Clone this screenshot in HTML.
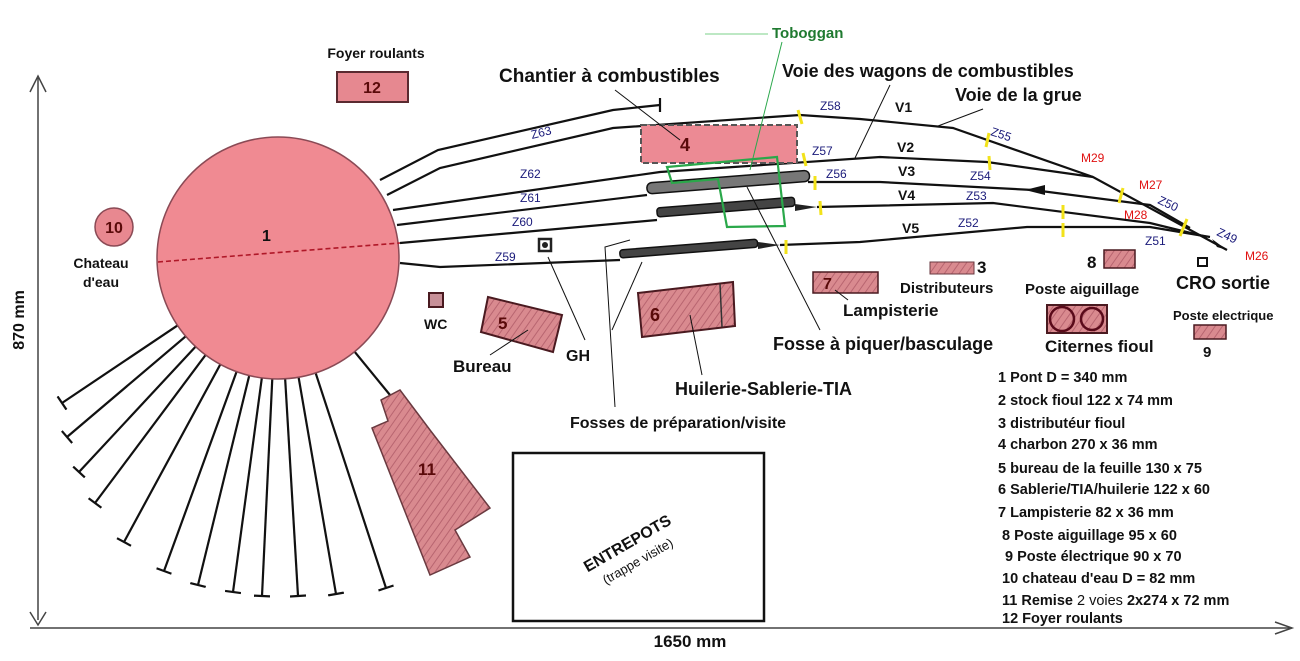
<!DOCTYPE html>
<html><head><meta charset="utf-8"><style>
html,body{margin:0;padding:0;background:#fff;}
svg{display:block;font-family:"Liberation Sans",sans-serif;}
.b{font-weight:bold;fill:#111;}
.z{fill:#1a1a7a;font-size:12px;}
.m{fill:#e01010;font-size:12px;}
.v{font-weight:bold;font-size:14px;fill:#111;}
.lg{font-weight:bold;font-size:14.5px;fill:#111;}
</style></head><body>
<svg width="1300" height="661" viewBox="0 0 1300 661" xmlns="http://www.w3.org/2000/svg">
<defs>
<marker id="tk" markerWidth="4" markerHeight="16" refX="2" refY="8" orient="auto" markerUnits="userSpaceOnUse"><line x1="2" y1="0" x2="2" y2="16" stroke="#111" stroke-width="2.2"/></marker>
<pattern id="h" width="6" height="6" patternUnits="userSpaceOnUse" patternTransform="rotate(35)"><rect width="6" height="6" fill="#d98a8f"/><line x1="0" y1="0" x2="0" y2="6" stroke="#b86570" stroke-width="2"/></pattern>
</defs>
<rect width="1300" height="661" fill="#fff"/>
<!-- axes -->
<line x1="38" y1="78" x2="38" y2="620" stroke="#444" stroke-width="1.5"/>
<path d="M30,92 L38,76 L46,92" fill="none" stroke="#444" stroke-width="1.5"/>
<path d="M30,612 L38,625 L46,612" fill="none" stroke="#444" stroke-width="1.5"/>
<line x1="30" y1="628" x2="1292" y2="628" stroke="#444" stroke-width="1.5"/>
<path d="M1275,622 L1292,628 L1275,634" fill="none" stroke="#444" stroke-width="1.5"/>
<text x="24" y="320" class="b" font-size="16" transform="rotate(-90 24 320)" text-anchor="middle">870 mm</text>
<text x="690" y="647" class="b" font-size="17" text-anchor="middle">1650 mm</text>
<!-- radial tracks -->
<g stroke="#111" stroke-width="2.2" marker-end="url(#tk)">
<line x1="278" y1="258" x2="62" y2="403"/>
<line x1="278" y1="258" x2="67" y2="437"/>
<line x1="278" y1="258" x2="79" y2="472"/>
<line x1="278" y1="258" x2="95" y2="503"/>
<line x1="278" y1="258" x2="124" y2="542"/>
<line x1="278" y1="258" x2="164" y2="571"/>
<line x1="278" y1="258" x2="198" y2="585"/>
<line x1="278" y1="258" x2="233" y2="592"/>
<line x1="278" y1="258" x2="262" y2="596"/>
<line x1="278" y1="258" x2="298" y2="596"/>
<line x1="278" y1="258" x2="336" y2="594"/>
<line x1="278" y1="258" x2="386" y2="588"/>
</g>
<line x1="278" y1="258" x2="390" y2="395" stroke="#111" stroke-width="2.2"/>
<!-- building 11 -->
<polygon points="381,400 400,390 430,430 490,508 455,530 470,557 430,575 372,428 388,421" fill="url(#h)" stroke="#6a3a40" stroke-width="1.5"/>
<text x="418" y="475" class="b" font-size="17" fill="#5a0a0a" style="fill:#5a0a0a">11</text>
<!-- turntable -->
<circle cx="278" cy="258" r="121" fill="#f08a92" stroke="#8a4a55" stroke-width="1.5"/>
<path d="M158,262 L400,243" stroke="#b01828" stroke-width="1.6" stroke-dasharray="5,3"/>
<text x="262" y="241" class="b" font-size="16">1</text>
<!-- chateau d'eau -->
<circle cx="114" cy="227" r="19" fill="#e88890" stroke="#8a4a55" stroke-width="1.5"/>
<text x="114" y="233" class="b" font-size="16" text-anchor="middle" style="fill:#5a0a0a">10</text>
<text x="101" y="268" class="b" font-size="14" text-anchor="middle">Chateau</text>
<text x="101" y="287" class="b" font-size="14" text-anchor="middle">d'eau</text>
<!-- foyer -->
<text x="376" y="58" class="b" font-size="14" text-anchor="middle">Foyer roulants</text>
<rect x="337" y="72" width="71" height="30" fill="#e68890" stroke="#5a2a30" stroke-width="2"/>
<text x="372" y="93" class="b" font-size="16" text-anchor="middle" style="fill:#5a0a0a">12</text>
<!-- tracks -->
<g fill="none" stroke="#111" stroke-width="2.2">
<polyline points="380,180 438,150 613,110 660,105"/>
<polyline points="387,195 440,168 613,128 800,115 860,119 953,128 1093,177 1227,250"/>
<polyline points="393,210 660,172 880,157 987,162 1093,177"/>
<polyline points="397,225 647,195"/>
<polyline points="808,182 880,182 1033,190 1150,205 1190,228"/>
<polyline points="400,243 657,220"/>
<polyline points="817,207 993,203 1150,223 1207,237"/>
<polyline points="400,263 440,267 620,260"/>
<polyline points="780,245 860,242 1027,227 1150,227 1210,237"/>
</g>
<line x1="660" y1="98" x2="660" y2="112" stroke="#111" stroke-width="2.2"/>
<path d="M1227,250 L1212,239 L1217,247 Z" fill="#111"/>
<path d="M1025,190 L1045,185 L1045,195 Z" fill="#111"/>
<!-- pits -->
<rect x="647" y="183" width="163" height="11" rx="5" fill="#777" stroke="#111" stroke-width="1.5" transform="rotate(-4.5 647 189)"/>
<rect x="657" y="208" width="138" height="9" rx="3" fill="#444" stroke="#111" stroke-width="1.5" transform="rotate(-4.5 657 212)"/>
<path d="M795,204 L817,207 L795,211 Z" fill="#222"/>
<rect x="620" y="250" width="138" height="8" rx="3" fill="#444" stroke="#111" stroke-width="1.5" transform="rotate(-4.5 620 255)"/>
<path d="M758,242 L780,245 L758,249 Z" fill="#222"/>
<!-- yellow ticks -->
<g stroke="#f2e21a" stroke-width="3">
<line x1="798" y1="110" x2="802" y2="124"/><line x1="803" y1="153" x2="806" y2="166"/>
<line x1="815" y1="176" x2="815" y2="190"/><line x1="820" y1="201" x2="821" y2="215"/>
<line x1="786" y1="240" x2="786" y2="254"/><line x1="989" y1="133" x2="986" y2="147"/>
<line x1="989" y1="156" x2="990" y2="170"/><line x1="1123" y1="188" x2="1119" y2="203"/>
<line x1="1063" y1="205" x2="1063" y2="219"/><line x1="1063" y1="223" x2="1063" y2="237"/>
<line x1="1187" y1="219" x2="1180" y2="236"/>
</g>
<!-- coal -->
<rect x="641" y="125" width="156" height="38" fill="#ec8a94" stroke="#555" stroke-width="2" stroke-dasharray="6,3"/>
<text x="685" y="151" class="b" font-size="18" text-anchor="middle" style="fill:#5a0a0a">4</text>
<!-- toboggan -->
<polygon points="667,167 777,157 785,226 727,227 718,179 672,183" fill="none" stroke="#2aa84a" stroke-width="2.2"/>
<line x1="782" y1="42" x2="750" y2="170" stroke="#2aa84a" stroke-width="1"/>
<line x1="705" y1="34" x2="768" y2="34" stroke="#bde8c4" stroke-width="2"/>
<text x="772" y="38" font-size="15" font-weight="bold" fill="#1f7a30">Toboggan</text>
<!-- labels -->
<text x="499" y="82" class="b" font-size="19">Chantier à combustibles</text>
<line x1="615" y1="90" x2="680" y2="140" stroke="#111" stroke-width="1"/>
<text x="782" y="77" class="b" font-size="18">Voie des wagons de combustibles</text>
<line x1="890" y1="85" x2="855" y2="158" stroke="#111" stroke-width="1"/>
<text x="955" y="101" class="b" font-size="18">Voie de la grue</text>
<line x1="983" y1="109" x2="938" y2="126" stroke="#111" stroke-width="1"/>
<text x="895" y="112" class="v">V1</text><text x="897" y="152" class="v">V2</text>
<text x="898" y="176" class="v">V3</text><text x="898" y="200" class="v">V4</text>
<text x="902" y="233" class="v">V5</text>
<text x="532" y="139" class="z" transform="rotate(-14 532 139)">Z63</text>
<text x="520" y="178" class="z">Z62</text><text x="520" y="202" class="z">Z61</text>
<text x="512" y="226" class="z">Z60</text><text x="495" y="261" class="z">Z59</text>
<text x="820" y="110" class="z">Z58</text><text x="812" y="155" class="z">Z57</text>
<text x="826" y="178" class="z">Z56</text>
<text x="990" y="135" class="z" transform="rotate(18 990 135)">Z55</text>
<text x="970" y="180" class="z">Z54</text><text x="966" y="200" class="z">Z53</text>
<text x="958" y="227" class="z">Z52</text><text x="1145" y="245" class="z">Z51</text>
<text x="1157" y="203" class="z" transform="rotate(25 1157 203)">Z50</text>
<text x="1216" y="235" class="z" transform="rotate(25 1216 235)">Z49</text>
<text x="1081" y="162" class="m">M29</text><text x="1139" y="189" class="m">M27</text>
<text x="1124" y="219" class="m">M28</text><text x="1245" y="260" class="m">M26</text>
<!-- GH -->
<g transform="translate(545,245)"><rect x="-6" y="-6" width="12" height="12" fill="none" stroke="#222" stroke-width="2.5"/><circle r="3" fill="#222"/></g>
<polyline points="548,257 585,340" fill="none" stroke="#111" stroke-width="1"/>
<text x="566" y="361" class="b" font-size="16">GH</text>
<!-- WC -->
<rect x="429" y="293" width="14" height="14" fill="#c89098" stroke="#4a1a20" stroke-width="2"/>
<text x="424" y="329" class="b" font-size="14">WC</text>
<!-- bureau -->
<polygon points="488,297 562,315 553,352 481,332" fill="url(#h)" stroke="#4a1a20" stroke-width="2"/>
<text x="498" y="329" class="b" font-size="17" style="fill:#5a0a0a">5</text>
<line x1="490" y1="355" x2="528" y2="330" stroke="#111" stroke-width="1"/>
<text x="453" y="372" class="b" font-size="17">Bureau</text>
<!-- 6 -->
<polygon points="638,293 733,282 735,326 642,337" fill="url(#h)" stroke="#4a1a20" stroke-width="2"/>
<line x1="720" y1="284" x2="722" y2="327" stroke="#333" stroke-width="1.5"/>
<text x="650" y="321" class="b" font-size="18" style="fill:#5a0a0a">6</text>
<line x1="690" y1="315" x2="702" y2="375" stroke="#111" stroke-width="1"/>
<text x="675" y="395" class="b" font-size="18">Huilerie-Sablerie-TIA</text>
<!-- fosses -->
<polyline points="615,407 605,247 630,240" fill="none" stroke="#111" stroke-width="1"/>
<line x1="612" y1="330" x2="642" y2="262" stroke="#111" stroke-width="1"/>
<text x="570" y="428" class="b" font-size="16">Fosses de préparation/visite</text>
<line x1="747" y1="187" x2="820" y2="330" stroke="#111" stroke-width="1"/>
<text x="773" y="350" class="b" font-size="18">Fosse à piquer/basculage</text>
<!-- 7 -->
<rect x="813" y="272" width="65" height="21" fill="url(#h)" stroke="#4a1a20" stroke-width="1.5"/>
<text x="823" y="289" class="b" font-size="16" style="fill:#5a0a0a">7</text>
<line x1="835" y1="290" x2="848" y2="300" stroke="#111" stroke-width="1"/>
<text x="843" y="316" class="b" font-size="17">Lampisterie</text>
<!-- 3 -->
<rect x="930" y="262" width="44" height="12" fill="url(#h)" stroke="#6a3a40" stroke-width="1"/>
<text x="977" y="273" class="b" font-size="17">3</text>
<text x="900" y="293" class="b" font-size="15">Distributeurs</text>
<!-- 8 -->
<text x="1087" y="268" class="b" font-size="17">8</text>
<rect x="1104" y="250" width="31" height="18" fill="url(#h)" stroke="#4a1a20" stroke-width="1.5"/>
<text x="1025" y="294" class="b" font-size="15">Poste aiguillage</text>
<!-- CRO -->
<rect x="1198" y="258" width="9" height="8" fill="#fff" stroke="#111" stroke-width="2"/>
<text x="1176" y="289" class="b" font-size="18" font-weight="normal">CRO sortie</text>
<!-- citernes -->
<rect x="1047" y="305" width="60" height="28" fill="url(#h)" stroke="#4a1a20" stroke-width="2"/>
<circle cx="1062" cy="319" r="12" fill="none" stroke="#5a0a1a" stroke-width="2.5"/>
<circle cx="1092" cy="319" r="11" fill="none" stroke="#5a0a1a" stroke-width="2.5"/>
<text x="1045" y="352" class="b" font-size="17" font-weight="normal">Citernes fioul</text>
<text x="1173" y="320" class="b" font-size="13">Poste electrique</text>
<rect x="1194" y="325" width="32" height="14" fill="url(#h)" stroke="#4a1a20" stroke-width="1.5"/>
<text x="1203" y="357" class="b" font-size="15">9</text>
<!-- entrepots -->
<rect x="513" y="453" width="251" height="168" fill="#fff" stroke="#111" stroke-width="2.5"/>
<text x="630" y="548" class="b" font-size="16" text-anchor="middle" transform="rotate(-30 630 548)">ENTREPOTS</text>
<text x="640" y="565" font-size="13" fill="#111" text-anchor="middle" transform="rotate(-30 640 565)">(trappe visite)</text>
<!-- legend -->
<text x="998" y="382" class="lg">1 Pont D = 340 mm</text>
<text x="998" y="405" class="lg">2 stock fioul 122 x 74 mm</text>
<text x="998" y="428" class="lg">3 distributéur fioul</text>
<text x="998" y="449" class="lg">4 charbon 270 x 36 mm</text>
<text x="998" y="473" class="lg">5 bureau de la feuille 130 x 75</text>
<text x="998" y="494" class="lg">6 Sablerie/TIA/huilerie 122 x 60</text>
<text x="998" y="517" class="lg">7 Lampisterie 82 x 36 mm</text>
<text x="1002" y="540" class="lg">8 Poste aiguillage 95 x 60</text>
<text x="1005" y="561" class="lg">9 Poste électrique 90 x 70</text>
<text x="1002" y="583" class="lg">10 chateau d'eau D = 82 mm</text>
<text x="1002" y="605" class="lg">11 Remise<tspan font-weight="normal"> 2 voies </tspan>2x274 x 72 mm</text>
<text x="1002" y="623" class="lg">12 Foyer roulants</text>
</svg>
</body></html>
